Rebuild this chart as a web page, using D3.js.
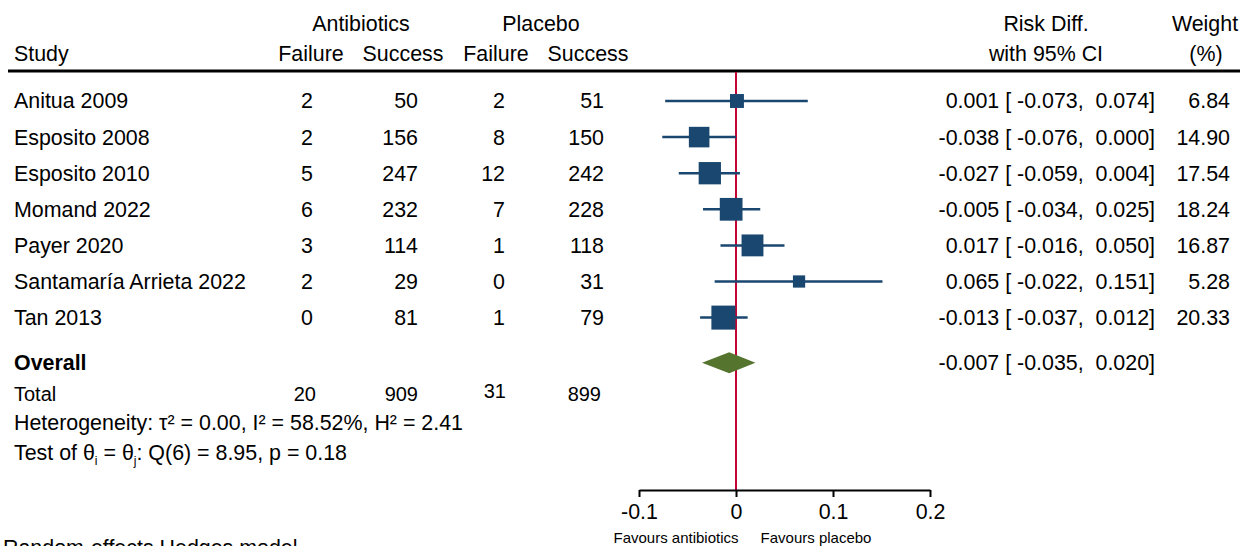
<!DOCTYPE html>
<html lang="en">
<head>
    <meta charset="UTF-8">
    <script src="https://d3js.org/d3.v7.min.js"></script>
    <style>
        body { margin: 0; padding: 0; background: #fff; }
        svg { display: block; font-family: "Liberation Sans", Arial, sans-serif; }
        .txt { font-size: 21.4px; fill: #000; white-space: pre; }
    </style>
</head>
<body>
    <svg id="chart" width="1240" height="546"></svg>

    <script>
        // data
        const studies = ["Anitua 2009", "Esposito 2008", "Esposito 2010", "Momand 2022",
                         "Payer 2020", "Santamaría Arrieta 2022", "Tan 2013"];
        const abxFailure = [2, 2, 5, 6, 3, 2, 0];
        const abxSuccess = [50, 156, 247, 232, 114, 29, 81];
        const plcFailure = [2, 8, 12, 7, 1, 0, 1];
        const plcSuccess = [51, 150, 242, 228, 118, 31, 79];
        const riskDiff = [0.001, -0.038, -0.027, -0.005, 0.017, 0.065, -0.013];
        const ciLow = [-0.073, -0.076, -0.059, -0.034, -0.016, -0.022, -0.037];
        const ciHigh = [0.074, 0.000, 0.004, 0.025, 0.050, 0.151, 0.012];
        const weights = [6.84, 14.90, 17.54, 18.24, 16.87, 5.28, 20.33];
        const overall = { est: -0.007, lo: -0.035, hi: 0.020 };
        const totals = [20, 909, 31, 899];
        const xTicks = [-0.1, 0, 0.1, 0.2];

        const svg = d3.select("#chart");
        const W = 1240;

        const x = d3.scaleLinear().domain([-0.1, 0.2]).range([639, 930]);
        const rowY = d3.scaleLinear().domain([0, 1]).range([101, 137.1]);
        const size = d3.scaleSqrt().domain([0, d3.max(weights)]).range([0, 24]);
        // plain hyphen for minus, like the original
        const loc = d3.formatLocale({ decimal: ".", thousands: ",", grouping: [3], currency: ["", ""], minus: "-" });
        const f3 = loc.format(".3f");
        const f1 = loc.format(".1f");

        const navy = "#1a476f", red = "#c10534", olive = "#55752f";
        const colX = { study: 14, af: 313, as: 418, pf: 505, ps: 604, rd: 1155, wt: 1230 };

        const text = (xx, yy, s, anchor = "start") => svg.append("text")
            .attr("class", "txt").attr("x", xx).attr("y", yy).attr("dy", "0.35em")
            .attr("text-anchor", anchor).text(s);

        // header
        text(361, 24, "Antibiotics", "middle");
        text(541, 24, "Placebo", "middle");
        text(1046, 24, "Risk Diff.", "middle");
        text(1205, 24, "Weight", "middle");
        text(14, 54, "Study");
        text(311, 54, "Failure", "middle");
        text(403, 54, "Success", "middle");
        text(496, 54, "Failure", "middle");
        text(588, 54, "Success", "middle");
        text(1046, 54, "with 95% CI", "middle");
        text(1206, 54, "(%)", "middle");

        svg.append("line").attr("x1", 8).attr("x2", W).attr("y1", 71).attr("y2", 71)
            .attr("stroke", "#000").attr("stroke-width", 3);

        // null line
        svg.append("line").attr("x1", x(0)).attr("x2", x(0)).attr("y1", 72).attr("y2", 490)
            .attr("stroke", red).attr("stroke-width", 2);

        // study rows
        const rows = studies.map((s, i) => ({
            s, i, af: abxFailure[i], as: abxSuccess[i], pf: plcFailure[i], ps: plcSuccess[i],
            est: riskDiff[i], lo: ciLow[i], hi: ciHigh[i], w: weights[i]
        }));

        rows.forEach(d => {
            const y = rowY(d.i);
            text(colX.study, y, d.s);
            text(colX.af, y, d.af, "end");
            text(colX.as, y, d.as, "end");
            text(colX.pf, y, d.pf, "end");
            text(colX.ps, y, d.ps, "end");
            text(colX.rd, y, `${f3(d.est)} [ ${f3(d.lo)},  ${f3(d.hi)}]`, "end");
            text(colX.wt, y, d.w.toFixed(2), "end");
        });

        svg.selectAll(".ci").data(rows).enter().append("line")
            .attr("class", "ci")
            .attr("x1", d => x(d.lo)).attr("x2", d => x(d.hi))
            .attr("y1", d => rowY(d.i)).attr("y2", d => rowY(d.i))
            .attr("stroke", navy).attr("stroke-width", 2.5);

        svg.selectAll(".box").data(rows).enter().append("rect")
            .attr("class", "box")
            .attr("x", d => x(d.est) - size(d.w) / 2)
            .attr("y", d => rowY(d.i) - size(d.w) / 2)
            .attr("width", d => size(d.w)).attr("height", d => size(d.w))
            .attr("fill", navy);

        // overall
        const oy = rowY(7.25);
        svg.append("text").attr("class", "txt").attr("x", 14).attr("y", oy).attr("dy", "0.35em")
            .attr("font-weight", "bold").text("Overall");
        text(colX.rd, oy, `${f3(overall.est)} [ ${f3(overall.lo)},  ${f3(overall.hi)}]`, "end");
        svg.append("path")
            .attr("d", `M${x(overall.lo)},${oy} L${x(overall.est)},${oy - 10.5} L${x(overall.hi)},${oy} L${x(overall.est)},${oy + 10.5} Z`)
            .attr("fill", olive);

        // totals
        const ty = 394;
        text(14, ty, "Total").style("font-size", "20px");
        [colX.af + 3, colX.as, colX.pf + 1, colX.ps - 3].forEach((cx, k) => {
            text(cx, k === 2 ? ty - 3 : ty, totals[k], "end").style("font-size", "20px");
        });

        // heterogeneity
        const het = svg.append("text").attr("class", "txt").attr("x", 14).attr("y", 423).attr("dy", "0.35em");
        het.text("Heterogeneity: τ² = 0.00, I² = 58.52%, H² = 2.41");

        const tst = svg.append("text").attr("class", "txt").attr("x", 14).attr("y", 453).attr("dy", "0.35em");
        tst.append("tspan").text("Test of θ");
        tst.append("tspan").attr("dy", 5).attr("fill", "#000").style("font-size", "12px").text("i");
        tst.append("tspan").attr("dy", -5).text(" = θ");
        tst.append("tspan").attr("dy", 5).attr("fill", "#000").style("font-size", "12px").text("j");
        tst.append("tspan").attr("dy", -5).text(": Q(6) = 8.95, p = 0.18");

        // axis
        const axis = svg.append("g").attr("transform", "translate(0,490)")
            .call(d3.axisBottom(x).tickValues(xTicks).tickSize(7).tickSizeOuter(0)
                .tickFormat(d => d === 0 ? "0" : f1(d)));
        axis.select(".domain").attr("stroke", "#000").attr("stroke-width", 2);
        axis.selectAll(".tick line").attr("stroke", "#000").attr("stroke-width", 2);
        axis.selectAll(".tick text").attr("y", 14).attr("fill", "#000")
            .style("font-size", "21.4px").style("font-family", "'Liberation Sans', Arial, sans-serif");

        svg.append("text").attr("x", 676).attr("y", 538).attr("dy", "0.35em")
            .attr("text-anchor", "middle").style("font-size", "15px").text("Favours antibiotics");
        svg.append("text").attr("x", 816).attr("y", 538).attr("dy", "0.35em")
            .attr("text-anchor", "middle").style("font-size", "15px").text("Favours placebo");

        text(3, 548, "Random-effects Hedges model");
    </script>
</body>
</html>
